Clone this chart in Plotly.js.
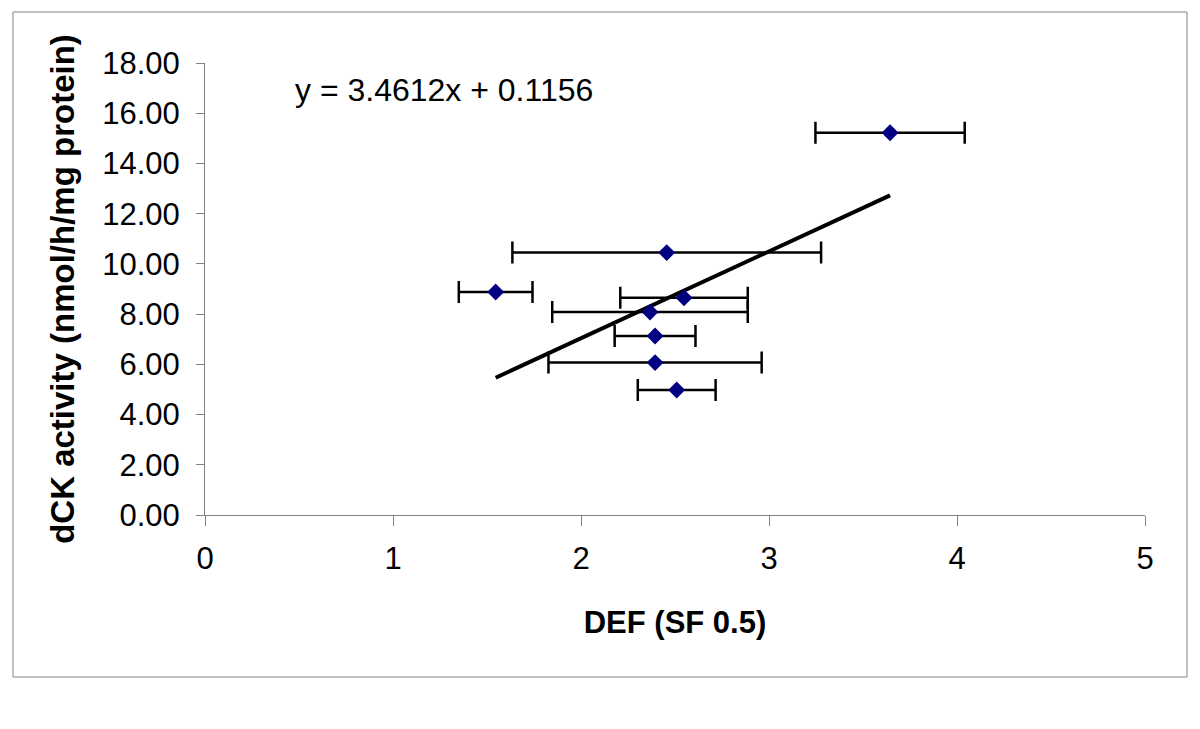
<!DOCTYPE html>
<html>
<head>
<meta charset="utf-8">
<script src="https://cdn.plot.ly/plotly-3.0.1.min.js"></script>
<style>
html,body{margin:0;padding:0;background:#fff;}
#chart{width:1200px;height:729px;}
</style>
</head>
<body>
<div id="chart"></div>
<script>
// Data
const defValues = [3.644, 2.456, 1.546, 2.548, 2.367, 2.394, 2.394, 2.509];
const dckValues = [15.22, 10.45, 8.88, 8.65, 8.08, 7.13, 6.07, 4.98];
const defErrors = [0.397, 0.821, 0.196, 0.339, 0.520, 0.215, 0.567, 0.207];
const trendSlope = 3.4612;
const trendIntercept = 0.1156;
const yTickValues = [0, 2, 4, 6, 8, 10, 12, 14, 16, 18];
const xTickValues = [0, 1, 2, 3, 4, 5];

const xMin = Math.min(...defValues);
const xMax = Math.max(...defValues);
const trendX = [xMin, xMax];
const trendY = trendX.map(v => trendSlope * v + trendIntercept);

const FONT = 'Arial, "Liberation Sans", sans-serif';

const traces = [
  {
    x: trendX, y: trendY, type: 'scatter', mode: 'lines',
    line: {color: '#000000', width: 4},
    hoverinfo: 'skip', showlegend: false
  },
  {
    x: defValues, y: dckValues, type: 'scatter', mode: 'markers',
    marker: {symbol: 'diamond', size: 13, color: '#000080', line: {width: 0}},
    error_x: {type: 'data', array: defErrors, visible: true, color: '#000000', thickness: 2.5, width: 11},
    showlegend: false
  }
];

const layout = {
  width: 1200, height: 729,
  margin: {l: 205, r: 55, t: 63, b: 214},
  paper_bgcolor: '#ffffff', plot_bgcolor: '#ffffff',
  font: {family: FONT, size: 31, color: '#000000'},
  showlegend: false,
  xaxis: {
    range: [0, 5], tickvals: xTickValues, ticktext: xTickValues.map(String),
    showgrid: false, zeroline: false, showline: true, linecolor: '#808080', linewidth: 1,
    ticks: 'outside', ticklen: 10, tickcolor: '#808080', tickwidth: 1,
    ticklabelstandoff: 6,
    tickfont: {family: FONT, size: 31, color: '#000000'},
    title: {text: 'DEF (SF 0.5)', font: {family: FONT, size: 31, color: '#000000', weight: 'bold'}, standoff: 36},
    automargin: false
  },
  yaxis: {
    range: [0, 18], tickvals: yTickValues, ticktext: yTickValues.map(v => v.toFixed(2)),
    showgrid: false, zeroline: false, showline: true, linecolor: '#808080', linewidth: 1,
    ticks: 'outside', ticklen: 8, tickcolor: '#808080', tickwidth: 1,
    ticklabelstandoff: 10,
    tickfont: {family: FONT, size: 31, color: '#000000'},
    title: {text: 'dCK activity (nmol/h/mg protein)', font: {family: FONT, size: 33, color: '#000000', weight: 'bold'}, standoff: 17},
    automargin: false
  },
  annotations: [
    {
      xref: 'x', yref: 'y', x: 0.468, y: 16.92, xanchor: 'left', yanchor: 'middle',
      text: 'y = 3.4612x + 0.1156', showarrow: false,
      font: {family: FONT, size: 32, color: '#000000'}
    }
  ],
  shapes: [
    {
      type: 'rect', xref: 'paper', yref: 'paper',
      x0: -0.2043, x1: 1.0447, y0: -0.3584, y1: 1.1128,
      line: {color: '#808080', width: 1}, fillcolor: 'rgba(0,0,0,0)', layer: 'below'
    }
  ]
};

Plotly.newPlot('chart', traces, layout, {displayModeBar: false, staticPlot: true});
</script>
</body>
</html>
